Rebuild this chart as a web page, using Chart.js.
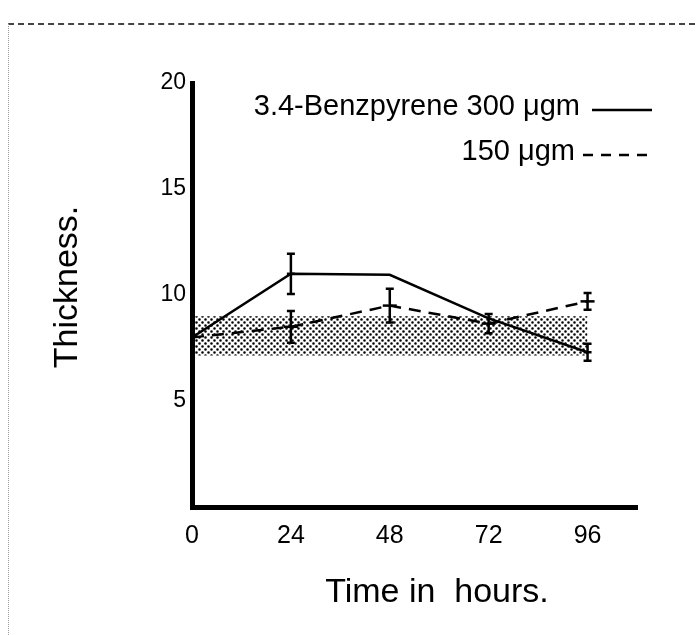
<!DOCTYPE html>
<html>
<head>
<meta charset="utf-8">
<script src="https://cdn.jsdelivr.net/npm/chart.js@4.4.0/dist/chart.umd.min.js"></script>
<style>
  html, body { margin: 0; padding: 0; background: #fff; }
  #wrap { position: relative; width: 699px; height: 635px; }
  #frame { position: absolute; left: 8px; top: 23px; width: 686px; height: 620px;
           border-top: 2px dashed #444; border-left: 1px dotted #999; }
  canvas { position: absolute; left: 0; top: 0; }
</style>
</head>
<body>
<div id="wrap">
  <div id="frame"></div>
  <canvas id="chart" width="699" height="635"></canvas>
</div>
<script>
// hours after application
var hours = [0, 24, 48, 72, 96];
var seriesLabels = ['3.4-Benzpyrene 300 \u03bcgm', '150 \u03bcgm'];

// thickness, 300 ugm (solid line) and its error bars
var dose300 = [8.0, 11.0, 10.95, 8.9, 7.3];
var dose300Err = [null, 0.95, null, null, 0.4];

// thickness, 150 ugm (dashed line) and its error bars
var dose150 = [8.0, 8.5, 9.5, 8.65, 9.7];
var dose150Err = [null, 0.75, 0.8, 0.45, 0.4];

// normal range, stippled band
var bandHours = [0, 96];
var bandHigh = [9.0, 9.0];
var bandLow = [7.15, 7.15];

var xTicks = [0, 24, 48, 72, 96];
var yTicks = [5, 10, 15, 20];
var xTitle = 'Time in  hours.';
var yTitle = 'Thickness.';

var FONT = '"Liberation Sans", Arial, Helvetica, sans-serif';

function points(xs, ys) {
    return xs.map(function (x, i) { return {x: x, y: ys[i]}; });
}

function stipple() {
    var c = document.createElement('canvas');
    c.width = 6;
    c.height = 6;
    var g = c.getContext('2d');
    g.fillStyle = '#000';
    g.beginPath();
    g.arc(1.5, 1.5, 1.3, 0, Math.PI * 2);
    g.arc(4.5, 4.5, 1.3, 0, Math.PI * 2);
    g.fill();
    return g.createPattern(c, 'repeat');
}

// vertical error bars with small caps
var errorBars = {
    id: 'errorBars',
    afterDatasetsDraw: function (chart) {
        var ctx = chart.ctx;
        var xs = chart.scales.x, ys = chart.scales.y;
        ctx.save();
        ctx.strokeStyle = '#000';
        ctx.lineWidth = 2.5;
        chart.data.datasets.forEach(function (ds) {
            if (!ds.errors) return;
            ds.data.forEach(function (p, i) {
                var e = ds.errors[i];
                if (e == null) return;
                var px = xs.getPixelForValue(p.x);
                var top = ys.getPixelForValue(p.y + e);
                var bot = ys.getPixelForValue(p.y - e);
                ctx.beginPath();
                ctx.moveTo(px, top); ctx.lineTo(px, bot);
                ctx.moveTo(px - 4, top); ctx.lineTo(px + 4, top);
                ctx.moveTo(px - 4, bot); ctx.lineTo(px + 4, bot);
                ctx.stroke();
            });
        });
        ctx.restore();
    }
};

// key in the upper right and the two axis titles
var labels = {
    id: 'labels',
    afterDraw: function (chart) {
        var ctx = chart.ctx;
        ctx.save();
        ctx.fillStyle = '#000';
        ctx.strokeStyle = '#000';
        ctx.lineWidth = 2.5;

        ctx.font = '29px ' + FONT;
        ctx.textAlign = 'right';
        ctx.textBaseline = 'middle';
        ctx.fillText(seriesLabels[0], 580, 107);
        ctx.fillText(seriesLabels[1], 575, 152);

        ctx.beginPath();
        ctx.moveTo(592, 110); ctx.lineTo(652, 110);
        ctx.stroke();
        ctx.setLineDash([10, 8]);
        ctx.beginPath();
        ctx.moveTo(583, 155); ctx.lineTo(647, 155);
        ctx.stroke();
        ctx.setLineDash([]);

        ctx.font = '34px ' + FONT;
        ctx.textAlign = 'center';
        ctx.fillText(xTitle, 437, 593);
        ctx.translate(68, 287);
        ctx.rotate(-Math.PI / 2);
        ctx.fillText(yTitle, 0, 0);
        ctx.restore();
    }
};

var ctx = document.getElementById('chart').getContext('2d');
var dots = stipple();

new Chart(ctx, {
    type: 'line',
    data: {
        datasets: [{
            data: points(hours, dose300),
            errors: dose300Err,
            borderColor: '#000',
            borderWidth: 2.5,
            tension: 0,
            fill: false,
            pointStyle: 'line',
            pointRadius: [0, 4, 0, 0, 4],
            pointBorderWidth: 2.5,
            pointBorderColor: '#000',
            order: 1
        }, {
            data: points(hours, dose150),
            errors: dose150Err,
            borderColor: '#000',
            borderWidth: 2.5,
            borderDash: [12, 8],
            tension: 0,
            fill: false,
            pointStyle: 'line',
            pointRadius: [0, 7, 7, 7, 7],
            pointBorderWidth: 2.5,
            pointBorderColor: '#000',
            order: 2
        }, {
            data: points(bandHours, bandHigh),
            borderWidth: 0,
            pointRadius: 0,
            backgroundColor: dots,
            fill: '+1',
            order: 5
        }, {
            data: points(bandHours, bandLow),
            borderWidth: 0,
            pointRadius: 0,
            fill: false,
            order: 6
        }]
    },
    options: {
        responsive: false,
        animation: false,
        devicePixelRatio: 1,
        layout: { padding: { top: 83, right: 62, left: 0, bottom: 0 } },
        plugins: {
            legend: { display: false },
            tooltip: { enabled: false }
        },
        scales: {
            x: {
                type: 'linear',
                min: 0,
                max: 108,
                afterBuildTicks: function (s) { s.ticks = xTicks.map(function (v) { return {value: v}; }); },
                afterFit: function (s) { s.height = 128; },
                grid: { display: false, drawTicks: false },
                border: { display: true, color: '#000', width: 5 },
                ticks: { color: '#000', padding: 14, font: { family: FONT, size: 25 } }
            },
            y: {
                min: 0,
                max: 20,
                afterBuildTicks: function (s) { s.ticks = yTicks.map(function (v) { return {value: v}; }); },
                afterFit: function (s) { s.width = 192; },
                grid: { display: false, drawTicks: false },
                border: { display: true, color: '#000', width: 5 },
                ticks: { color: '#000', padding: 6, font: { family: FONT, size: 23 } }
            }
        }
    },
    plugins: [errorBars, labels]
});
</script>
</body>
</html>
